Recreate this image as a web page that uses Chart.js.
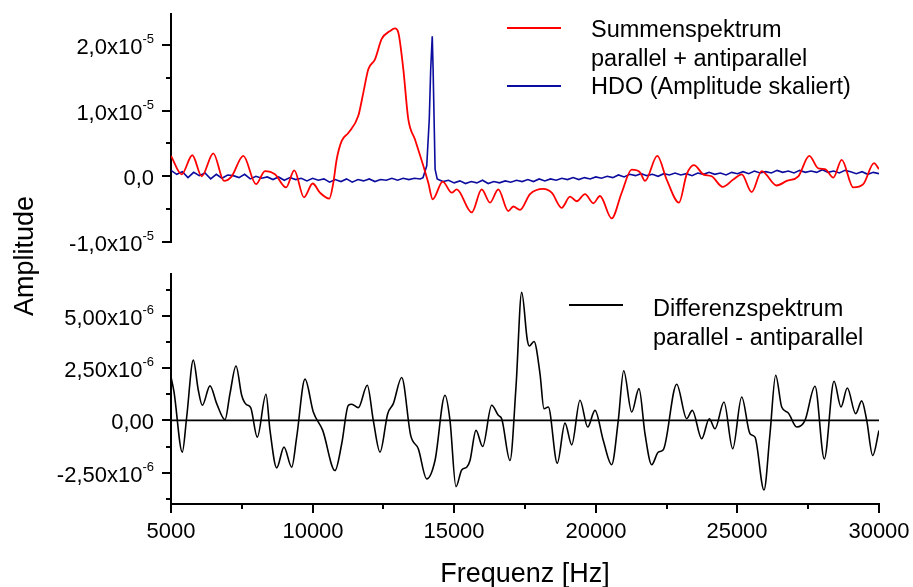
<!DOCTYPE html>
<html>
<head>
<meta charset="utf-8">
<script src="https://cdn.jsdelivr.net/npm/chart.js@4.4.0/dist/chart.umd.min.js"></script>
<style>
  html, body { margin: 0; padding: 0; background: #fff; }
  #wrap { position: relative; width: 913px; height: 587px; }
  #wrap canvas { position: absolute; left: 0; top: 0; }
</style>
</head>
<body>
<div id="wrap">
  <canvas id="topChart" width="913" height="587"></canvas>
  <canvas id="botChart" width="913" height="587"></canvas>
</div>
<script>
// amplitudes are given in units of 1e-6
const UNIT = 1e-6;

// Summenspektrum parallel + antiparallel (red)
const sumFreq = [5000, 5378, 5752, 6084, 6494, 6871, 7143, 7553, 8001, 8319, 8672, 9061, 9354, 9696,
  10004, 10261, 10590, 10731, 10851, 11028, 11261, 11614, 11790, 11967, 12203, 12440, 12733, 12910,
  13026, 13203, 13379, 13616, 13909, 14085, 14241, 14594, 14912, 15088, 15618, 15971, 16264, 16557,
  16910, 17087, 17323, 17676, 18146, 18443, 18796, 19089, 19326, 19619, 19912, 20148, 20561, 20914,
  21267, 21560, 21737, 22171, 22503, 22937, 23209, 23467, 23796, 24092, 24480, 24855, 25152, 25505,
  25858, 26388, 26741, 27151, 27539, 27857, 28093, 28386, 28683, 29092, 29445, 29823, 30000];
const sumAmp = [3.1, 0.3, 3.2, 0.0, 3.5, -0.7, 0.0, 3.1, -1.2, 0.8, 0.3, -1.7, 0.9, -3.2,
  -1.1, -2.5, -3.4, -1.0, 2.6, 5.4, 6.6, 9.2, 12.7, 16.3, 17.8, 20.9, 22.1, 22.5,
  21.9, 16.3, 8.7, 5.6, 1.6, -1.0, -3.5, -0.8, -2.5, -2.0, -5.5, -2.0, -4.0, -2.0,
  -5.3, -4.6, -5.1, -2.7, -1.9, -2.5, -4.8, -3.1, -3.8, -2.7, -4.1, -3.0, -6.4, -2.5,
  1.0, 0.6, -0.7, 3.1, -0.5, -4.0, 0.3, 1.7, 0.3, 0.0, -1.6, -0.5, 0.3, -2.4,
  0.8, -1.4, -0.7, 0.0, 3.1, 1.2, 1.1, -0.2, 2.5, -1.7, -1.2, 2.0, 1.1];

// HDO (Amplitude skaliert) (blue)
const hdoFreq = [5000, 5200, 5400, 5600, 5800, 6000, 6200, 6400, 6600, 6800, 7000, 7200, 7400, 7600,
  7800, 8000, 8200, 8400, 8600, 8800, 9000, 9200, 9400, 9600, 9800, 10000, 10200, 10400, 10600,
  10800, 11000, 11200, 11400, 11600, 11800, 12000, 12200, 12400, 12600, 12800, 13000, 13200, 13400,
  13600, 13800, 13900, 14030, 14120, 14170, 14225, 14255, 14290, 14325, 14400, 14600, 14800, 15000,
  15200, 15400, 15600, 15800, 16000, 16200, 16400, 16600, 16800, 17000, 17200, 17400, 17600, 17800,
  18000, 18200, 18400, 18600, 18800, 19000, 19200, 19400, 19600, 19800, 20000, 20200, 20400, 20600,
  20800, 21000, 21200, 21400, 21600, 21800, 22000, 22200, 22400, 22600, 22800, 23000, 23200, 23400,
  23600, 23800, 24000, 24200, 24400, 24600, 24800, 25000, 25200, 25400, 25600, 25800, 26000, 26200,
  26400, 26600, 26800, 27000, 27200, 27400, 27600, 27800, 28000, 28200, 28400, 28600, 28800, 29000,
  29200, 29400, 29600, 29800, 30000];
const hdoAmp = [0.9, 0.3, 0.7, -0.2, 0.6, 0.1, 0.5, -0.4, 0.3, -0.3, 0.2, 0.1, -0.2, 0.3,
  -0.4, 0.0, -0.3, -0.1, -0.5, -0.1, -0.6, -0.2, -0.5, -0.3, -0.7, -0.3, -0.6, -0.4, -0.9,
  -0.5, -0.8, -0.4, -0.9, -0.5, -0.7, -0.4, -0.8, -0.5, -0.6, -0.3, -0.6, -0.3, -0.5,
  -0.3, -0.4, -0.2, 1.6, 8.7, 16.3, 21.3, 16.3, 8.7, 1.1, -0.4, -0.8, -0.6, -1.0,
  -0.7, -1.1, -0.8, -1.0, -0.6, -1.1, -0.8, -1.0, -0.7, -0.9, -0.6, -0.8, -0.5, -0.8,
  -0.4, -0.7, -0.4, -0.6, -0.3, -0.5, -0.2, -0.5, -0.2, -0.4, -0.1, -0.3, 0.0, -0.2,
  0.2, -0.1, 0.3, 0.1, 0.4, 0.1, 0.3, 0.0, 0.4, 0.2, 0.5, 0.2, 0.4, 0.1,
  0.5, 0.3, 0.6, 0.3, 0.5, 0.2, 0.6, 0.4, 0.7, 0.4, 0.8, 0.5, 0.7, 0.5,
  0.9, 0.6, 0.8, 0.5, 0.9, 0.6, 0.8, 0.6, 1.0, 0.6, 0.8, 0.5, 0.9, 0.7,
  0.4, 0.7, 0.3, 0.6, 0.4];

// Differenzspektrum parallel - antiparallel (black)
const diffFreq = [5000, 5106, 5399, 5554, 5787, 5964, 6105, 6377, 6614, 6907, 7083, 7295, 7496, 7648,
  7814, 8047, 8354, 8496, 8732, 8990, 9262, 9438, 9732, 10025, 10357, 10791, 11028, 11261, 11381,
  11614, 11931, 12143, 12380, 12652, 12850, 13146, 13464, 13732, 14029, 14322, 14675, 14851, 15063,
  15265, 15441, 15558, 15770, 16006, 16324, 16557, 16677, 16970, 17182, 17383, 17581, 17651, 17818,
  18029, 18170, 18322, 18640, 18912, 19149, 19442, 19714, 19971, 20264, 20561, 20794, 20985, 21267,
  21525, 21737, 21974, 22207, 22383, 22856, 23209, 23407, 23739, 24007, 24209, 24526, 24834, 25152,
  25445, 25621, 25939, 26151, 26352, 26564, 26797, 27093, 27387, 27740, 28069, 28412, 28658, 28880,
  29177, 29389, 29566, 29778, 30000];
const diffAmp = [2.08, 1.36, -1.52, 0.16, 2.88, 1.44, 0.72, 1.65, 0.8, 0.03, 1.28, 2.6, 1.2, 0.77,
  0.61, -0.8, 1.25, -0.48, -2.27, -1.28, -2.24, -0.8, 1.97, 0.4, -0.48, -2.4, -1.12, 0.72, 0.77,
  0.61, 1.68, 0.0, -1.52, 0.32, 0.8, 2.05, -0.72, -1.36, -2.8, -1.92, 1.2, 0.0, -3.17,
  -2.37, -2.24, -1.92, -0.48, -1.25, 0.72, 0.24, 0.08, -1.92, 1.6, 6.12, 3.85, 3.56, 3.77,
  2.24, 0.56, 0.64, -2.05, -0.13, -1.17, 0.96, -0.32, 0.48, -0.96, -2.12, 0.0, 2.37, 0.4,
  1.52, -0.64, -2.12, -1.52, -1.41, 1.73, 0.08, 0.48, -0.88, 0.08, -0.4, 0.88, -1.36, 1.12,
  -0.64, -0.8, -3.33, -0.64, 2.16, 0.64, 0.35, -0.32, 0.0, 1.63, -1.84, 1.87, 0.64, 1.55,
  0.32, 0.93, 0.0, -1.68, -0.48];

// axis ticks (amplitudes in 1e-6)
const freqTicks = [5000, 10000, 15000, 20000, 25000, 30000];
const freqMinor = [7500, 12500, 17500, 22500, 27500];
const topTicks = [-10, 0, 10, 20];
const topMinor = [-5, 5, 15];
const topTickText = ['-1,0x10', '0,0', '1,0x10', '2,0x10'];
const topTickExp = ['-5', '', '-5', '-5'];
const botTicks = [-2.5, 0, 2.5, 5];
const botMinor = [-3.75, -1.25, 1.25, 3.75, 6.25];
const botTickText = ['-2,50x10', '0,00', '2,50x10', '5,00x10'];
const botTickExp = ['-6', '', '-6', '-6'];

const FONT = '"Liberation Sans", Arial, sans-serif';

function points(xs, ys) {
  return xs.map((x, i) => ({ x: x, y: ys[i] * UNIT }));
}

function tickLabel(ctx, main, exp, right, base) {
  ctx.textAlign = 'left';
  ctx.textBaseline = 'alphabetic';
  ctx.font = '22px ' + FONT;
  const w1 = ctx.measureText(main).width;
  ctx.font = '13px ' + FONT;
  const w2 = exp ? ctx.measureText(exp).width : 0;
  ctx.font = '22px ' + FONT;
  ctx.fillText(main, right - w1 - w2, base);
  if (exp) {
    ctx.font = '13px ' + FONT;
    ctx.fillText(exp, right - w2, base - 11);
  }
}

// draws tick marks, tick labels, legend and axis titles
const decor = {
  id: 'decor',
  afterDraw(chart, args, o) {
    const ctx = chart.ctx, a = chart.chartArea;
    const xs = chart.scales.x, ys = chart.scales.y;
    ctx.save();
    ctx.strokeStyle = '#000';
    ctx.fillStyle = '#000';
    ctx.lineWidth = 2;

    // y ticks
    o.yMinor.forEach(v => {
      const y = Math.round(ys.getPixelForValue(v * UNIT));
      ctx.beginPath(); ctx.moveTo(a.left - 5, y); ctx.lineTo(a.left, y); ctx.stroke();
    });
    o.yTicks.forEach((v, i) => {
      const y = Math.round(ys.getPixelForValue(v * UNIT));
      ctx.beginPath(); ctx.moveTo(a.left - 9, y); ctx.lineTo(a.left, y); ctx.stroke();
      tickLabel(ctx, o.yText[i], o.yExp[i], 154, y + 9);
    });

    // x ticks
    if (o.xAxis) {
      freqMinor.forEach(v => {
        const x = Math.round(xs.getPixelForValue(v));
        ctx.beginPath(); ctx.moveTo(x, a.bottom); ctx.lineTo(x, a.bottom + 5); ctx.stroke();
      });
      ctx.font = '22px ' + FONT;
      ctx.textAlign = 'center';
      ctx.textBaseline = 'alphabetic';
      freqTicks.forEach(v => {
        const x = Math.round(xs.getPixelForValue(v));
        ctx.beginPath(); ctx.moveTo(x, a.bottom); ctx.lineTo(x, a.bottom + 9); ctx.stroke();
        ctx.fillText(String(v), x, 538);
      });
      ctx.font = '27px ' + FONT;
      ctx.fillText('Frequenz [Hz]', (a.left + a.right) / 2, 582);
      ctx.save();
      ctx.translate(33, 256);
      ctx.rotate(-Math.PI / 2);
      ctx.fillText('Amplitude', 0, 0);
      ctx.restore();
    }

    // legend
    ctx.font = '23.5px ' + FONT;
    ctx.textAlign = 'left';
    o.legend.forEach(item => {
      const ds = chart.data.datasets[item.ds];
      ctx.strokeStyle = ds.borderColor;
      ctx.lineWidth = 2;
      ctx.beginPath(); ctx.moveTo(item.x, item.lineY); ctx.lineTo(item.x + 54, item.lineY); ctx.stroke();
      item.lines.forEach((t, k) => ctx.fillText(t, item.x + 84, item.base + k * 28.5));
    });
    ctx.restore();
  }
};

function options(pad, yMin, yMax, showX, decorOpts) {
  return {
    responsive: false,
    animation: false,
    layout: { padding: pad },
    elements: { point: { radius: 0 } },
    plugins: { legend: { display: false }, tooltip: { enabled: false }, decor: decorOpts },
    scales: {
      x: {
        type: 'linear', min: 5000, max: 30000, display: showX,
        grid: { display: false }, ticks: { display: false },
        border: { display: true, color: '#000', width: 2 },
        afterFit: s => {
          s.height = showX ? 83 : 0;
          s.paddingLeft = 0; s.paddingRight = 0;
        }
      },
      y: {
        type: 'linear', min: yMin, max: yMax,
        grid: { display: false }, ticks: { display: false },
        border: { display: true, color: '#000', width: 2 },
        afterFit: s => { s.width = 171; s.paddingTop = 0; s.paddingBottom = 0; }
      }
    }
  };
}

new Chart(document.getElementById('topChart'), {
  type: 'line',
  data: {
    datasets: [
      { label: 'Summenspektrum', data: points(sumFreq, sumAmp), borderColor: '#ff0000',
        borderWidth: 1.8, cubicInterpolationMode: 'monotone' },
      { label: 'HDO (Amplitude skaliert)', data: points(hdoFreq, hdoAmp), borderColor: '#0c0c9e',
        borderWidth: 1.6, tension: 0 }
    ]
  },
  options: options({ left: 0, top: 14, right: 34, bottom: 345 }, -10 * UNIT, 24.7 * UNIT, false, {
    yTicks: topTicks, yMinor: topMinor, yText: topTickText, yExp: topTickExp, xAxis: false,
    legend: [
      { ds: 0, x: 507, lineY: 28, base: 37, lines: ['Summenspektrum', 'parallel + antiparallel'] },
      { ds: 1, x: 507, lineY: 86, base: 94, lines: ['HDO (Amplitude skaliert)'] }
    ]
  }),
  plugins: [decor]
});

new Chart(document.getElementById('botChart'), {
  type: 'line',
  data: {
    datasets: [
      { label: 'Differenzspektrum', data: points(diffFreq, diffAmp), borderColor: '#000000',
        borderWidth: 1.6, cubicInterpolationMode: 'monotone' },
      { label: 'zero', data: points([5000, 30000], [0, 0]), borderColor: '#000000',
        borderWidth: 1.6, tension: 0 }
    ]
  },
  options: options({ left: 0, top: 274, right: 34, bottom: 0 }, -4 * UNIT, 7 * UNIT, true, {
    yTicks: botTicks, yMinor: botMinor, yText: botTickText, yExp: botTickExp, xAxis: true,
    legend: [
      { ds: 0, x: 569, lineY: 305, base: 316, lines: ['Differenzspektrum', 'parallel - antiparallel'] }
    ]
  }),
  plugins: [decor]
});
</script>
</body>
</html>
